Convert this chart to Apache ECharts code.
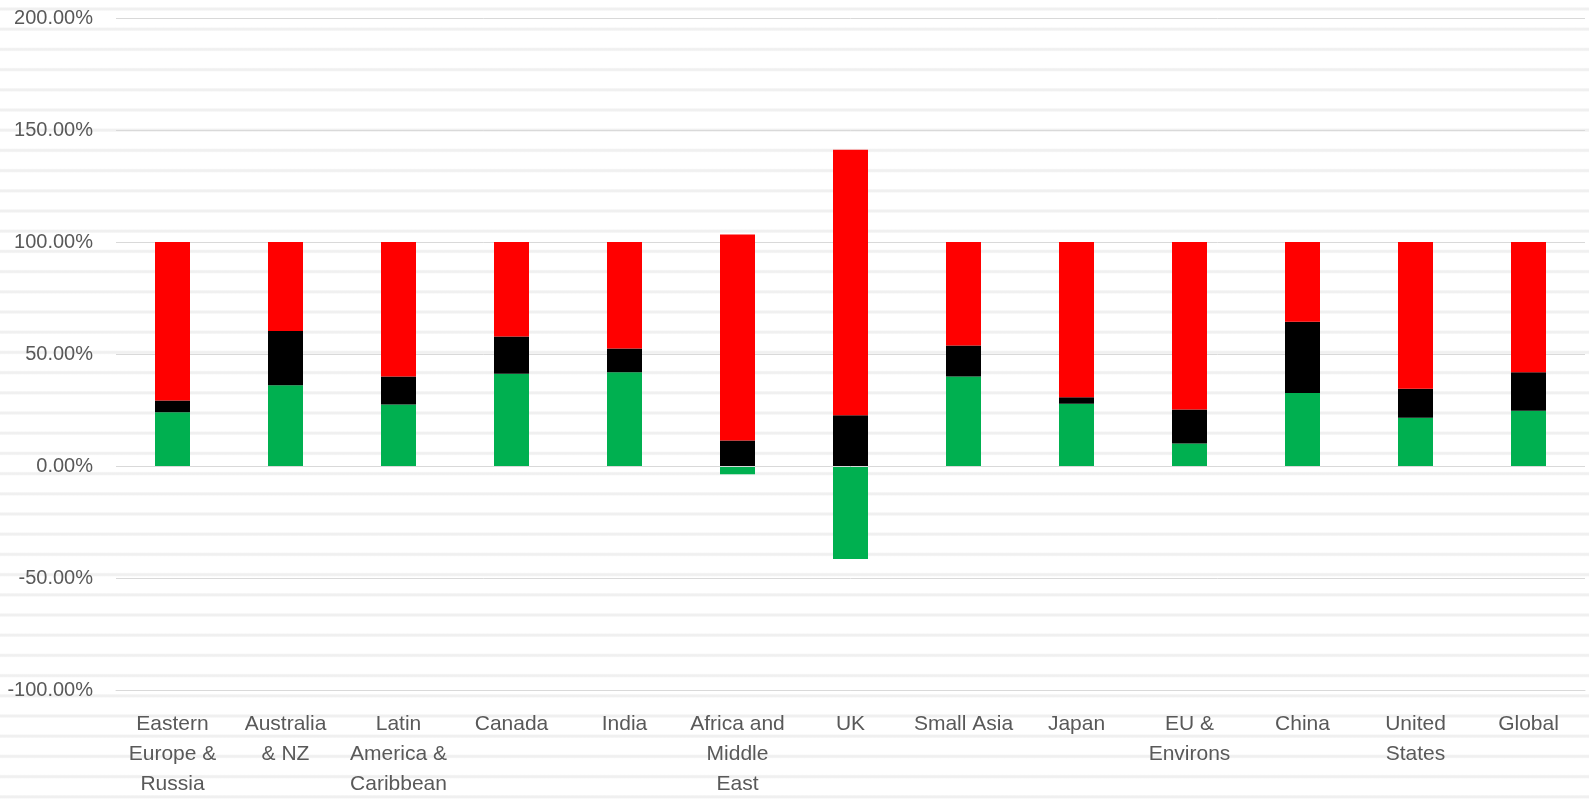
<!DOCTYPE html>
<html>
<head>
<meta charset="utf-8">
<title>Regional breakdown</title>
<script src="https://cdn.jsdelivr.net/npm/echarts@6/dist/echarts.min.js"></script>
<style>
  html, body {
    margin: 0;
    padding: 0;
    width: 1589px;
    height: 799px;
    overflow: hidden;
    background-color: #ffffff;
    /* faint ruled stripes behind the whole chart */
    background-image: repeating-linear-gradient(to bottom,
      #ffffff 0px, #ffffff 6.8px, #f0f0f0 8.2px, #f0f0f0 9.8px, #ffffff 11.2px, #ffffff 20.2px);
  }
  #chart { width: 1589px; height: 799px; }
</style>
</head>
<body>
<div id="chart"></div>
<script>
// Regions shown along the category axis
const regions = [
  'Eastern Europe & Russia', 'Australia & NZ', 'Latin America & Caribbean', 'Canada', 'India',
  'Africa and Middle East', 'UK', 'Small Asia', 'Japan', 'EU & Environs', 'China',
  'United States', 'Global'
];

// Wrapped tick labels, one per region
const regionTickLabels = [
  'Eastern\nEurope &\nRussia', 'Australia\n& NZ', 'Latin\nAmerica &\nCaribbean', 'Canada', 'India',
  'Africa and\nMiddle\nEast', 'UK', 'Small Asia', 'Japan', 'EU &\nEnvirons', 'China',
  'United\nStates', 'Global'
];

// Stacked components, in percent
const greenPart = [24.0, 36.0, 27.4, 41.2, 41.8, -3.7, -41.5, 40.0, 27.8, 10.1, 32.6, 21.5, 24.7];
const blackPart = [5.2, 24.3, 12.6, 16.6, 10.6, 11.4, 22.7, 13.8, 2.9, 15.1, 31.8, 13.0, 17.1];
const redPart   = [70.8, 39.7, 60.0, 42.2, 47.6, 92.0, 118.5, 46.2, 69.3, 74.8, 35.6, 65.5, 58.2];

// Value axis range
const yMin = -100, yMax = 200, yStep = 50;

const labelMap = {};
regions.forEach((r, i) => { labelMap[r] = regionTickLabels[i]; });

const chart = echarts.init(document.getElementById('chart'), null, { renderer: 'canvas' });

const barCommon = {
  type: 'bar',
  stack: 'total',
  barWidth: 35,
  emphasis: { disabled: true },
  animation: false
};

chart.setOption({
  backgroundColor: 'transparent',
  animation: false,
  grid: { left: 116, right: 4, top: 18, bottom: 106, containLabel: false },
  xAxis: {
    type: 'category',
    data: regions,
    axisLine: { show: true, onZero: false, lineStyle: { color: '#d9d9d9', width: 1 } },
    axisTick: { show: false },
    splitLine: { show: false },
    axisLabel: {
      interval: 0,
      margin: 19,
      color: '#595959',
      fontFamily: 'Liberation Sans, Arial, sans-serif',
      fontSize: 21,
      lineHeight: 30,
      align: 'center',
      formatter: v => labelMap[v]
    }
  },
  yAxis: {
    type: 'value',
    min: yMin,
    max: yMax,
    interval: yStep,
    axisLine: { show: false },
    axisTick: { show: false },
    splitLine: { show: true, lineStyle: { color: '#d9d9d9', width: 1 } },
    axisLabel: {
      margin: 23,
      color: '#595959',
      fontFamily: 'Liberation Sans, Arial, sans-serif',
      fontSize: 20,
      formatter: v => v.toFixed(2) + '%'
    }
  },
  series: [
    Object.assign({}, barCommon, {
      name: 'Green',
      data: greenPart,
      itemStyle: { color: '#00b050' }
    }),
    Object.assign({}, barCommon, {
      name: 'Black',
      data: blackPart,
      itemStyle: { color: '#000000' }
    }),
    Object.assign({}, barCommon, {
      name: 'Red',
      data: redPart,
      itemStyle: { color: '#ff0000' },
      markLine: {
        silent: true,
        symbol: 'none',
        label: { show: false },
        lineStyle: { color: '#d9d9d9', width: 1, type: 'solid' },
        data: [{ yAxis: 0 }],
        animation: false
      }
    })
  ]
});
</script>
</body>
</html>
